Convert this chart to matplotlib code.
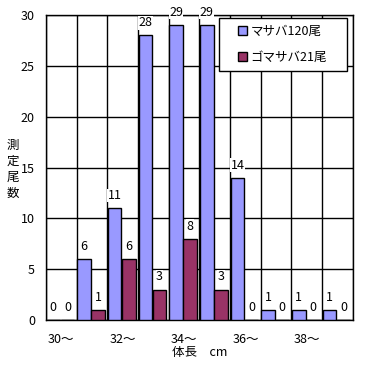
import matplotlib
matplotlib.use("Agg")
import matplotlib.pyplot as plt
from matplotlib.patches import Rectangle
import numpy as np

plt.rcParams['font.family'] = ['Noto Sans CJK JP', 'DejaVu Sans']

# data
categories = ['30〜', '31〜', '32〜', '33〜', '34〜', '35〜', '36〜', '37〜', '38〜', '39〜']
masaba = [0, 6, 11, 28, 29, 29, 14, 1, 1, 1]
gomasaba = [0, 1, 6, 3, 8, 3, 0, 0, 0, 0]
tick_labels = ['30〜', '', '32〜', '', '34〜', '', '36〜', '', '38〜', '']

fig = plt.figure(figsize=(3.71, 3.65), dpi=100)
ax = fig.add_axes([0.124, 0.123, 0.827, 0.836])

x = np.arange(len(categories))
w = 0.44
b1 = ax.bar(x - 0.26, masaba, w, color='#9999FF', edgecolor='black', linewidth=1, label='マサバ120尾', zorder=3)
b2 = ax.bar(x + 0.20, gomasaba, w, color='#993366', edgecolor='black', linewidth=1, label='ゴマサバ21尾', zorder=3)

for bars, vals in [(b1, masaba), (b2, gomasaba)]:
    for r, v in zip(bars, vals):
        ax.text(r.get_x() + r.get_width() / 2, v + 0.6, str(v), ha='center', va='bottom',
                fontsize=9, zorder=4,
                bbox=dict(facecolor='white', edgecolor='none', pad=0.3))

ax.set_xlim(-0.5, len(categories) - 0.5)
ax.set_ylim(0, 30)
ax.set_yticks(range(0, 31, 5))
ax.set_xticks(x)
ax.set_xticklabels(tick_labels, fontsize=9)
ax.set_xticks(np.arange(-0.5, len(categories), 1), minor=True)
ax.tick_params(axis='both', which='both', length=0, labelsize=9)
ax.tick_params(axis='x', pad=9)
ax.tick_params(axis='y', pad=8)
ax.grid(True, axis='y', which='major', color='black', linewidth=1, zorder=0)
ax.grid(True, axis='x', which='minor', color='black', linewidth=1, zorder=0)
for s in ax.spines.values():
    s.set_linewidth(1)

ax.set_xlabel('体長　cm', fontsize=9, labelpad=0)
fig.text(0.035, 0.535, '測\n定\n尾\n数', fontsize=9, ha='center', va='center', linespacing=1.3)

# legend box
box = Rectangle((0.5635, 0.816), 0.417, 0.174, transform=ax.transAxes,
                facecolor='white', edgecolor='black', linewidth=1, zorder=5)
ax.add_patch(box)
leg = ax.legend(loc='center', bbox_to_anchor=(0.77, 0.903), fontsize=9, frameon=False,
                handlelength=0.7, handleheight=0.7, handletextpad=0.3, labelspacing=1.05,
                borderpad=0, borderaxespad=0)
leg.set_zorder(6)

fig.savefig('out.png', dpi=100)
